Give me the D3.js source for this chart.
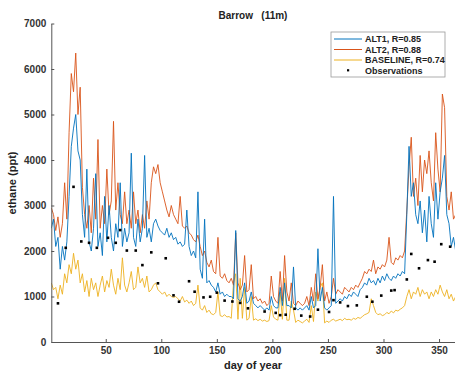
<!DOCTYPE html>
<head>
<meta charset="utf-8">
<title>Barrow (11m) ethane</title>
<style>
  body { margin: 0; background: #fff; }
  svg { font-family: "Liberation Sans", Arial, sans-serif; }
  .axis text { font-size: 10px; font-weight: bold; fill: #333; }
  .axis path, .axis line { stroke: #555; }
</style>
</head>
<body>
<svg width="455" height="379"></svg>
<script src="https://d3js.org/d3.v7.min.js"></script>
<script>

// model output sampled every 2 days, starting at day 1
var days = d3.range(1, 366, 2);

var alt2 = [
  2950, 2800, 2450, 2750, 2300, 2600, 3500, 2700, 4600, 5900,
  5500, 6350, 5000, 5600, 3400, 2800, 2500, 3000, 2400, 3600,
  2700, 4450, 2500, 3000, 2600, 3800, 2800, 3100, 4850, 2900,
  3500, 2800, 2600, 3300, 2600, 2900, 2500, 3300, 2600, 2900,
  2400, 2800, 2500, 3100, 2700, 3500, 3850, 3700, 3900, 3500,
  3300, 3100, 2900, 2750, 3000, 2800, 2700, 2600, 3200, 2550,
  2500, 2550, 2400, 2350, 2250, 2200, 2350, 2100, 1900, 2000,
  1750, 1650, 1800, 1550, 1500, 2300, 1450, 1400, 1500, 1350,
  1300, 1400, 1250, 2400, 1300, 1150, 1250, 1900, 1100, 1150,
  1700, 950, 1000, 900, 950, 850, 900, 800, 850, 1450,
  1000, 900, 850, 1550, 900, 1900, 1100, 900, 1300, 850,
  800, 900, 850, 800, 850, 1000, 800, 1200, 900, 1500,
  950, 1200, 1700, 900, 1100, 850, 1000, 1400, 1050, 1150,
  1100, 1050, 1200, 1150, 1100, 1200, 1150, 1250, 1200, 1300,
  1400, 1550, 1500, 1600, 1550, 1800, 1500, 1650, 1600, 1700,
  1650, 1800, 2300, 1750, 1700, 1850, 1800, 1900, 1850, 2000,
  2900, 3850, 4500, 3200, 3600, 3000, 4100, 3300, 4000, 3700,
  4200, 3500, 3100, 4600, 3800, 3300, 5450, 5150, 3200, 2900,
  3300, 2700, 2800
];

var alt1 = [
  2500, 2700, 2100, 2300, 1600, 2100, 1800, 2200, 3200, 4300,
  4700, 5000, 4200, 4000, 2800, 2300, 3800, 2200, 2000, 2500,
  3700, 2100, 2400, 1900, 3200, 2200, 3000, 2300, 2000, 2600,
  2300, 3500, 2100, 2500, 2200, 2400, 4150, 2300, 2100, 2700,
  2200, 2500, 4100, 2300, 2500, 2200, 2600, 2700, 2550, 2450,
  2400, 2350, 2500, 2300, 2400, 2250, 2300, 2150, 2200, 2100,
  2150, 2900, 2100, 1900, 2000, 1850, 3300, 1600, 1400, 2700,
  1300, 1350, 1250, 1200, 1100, 1300, 1050, 1100, 1000, 1050,
  1000, 1000, 950, 2450, 950, 900, 1000, 1300, 850, 900,
  1100, 850, 800, 750, 800, 750, 700, 750, 700, 1000,
  800, 750, 750, 1200, 800, 1300, 800, 800, 750, 1650,
  750, 700, 750, 700, 750, 800, 700, 1000, 750, 800,
  2050, 900, 1200, 750, 700, 750, 800, 3200, 850, 900,
  950, 900, 1000, 950, 1050, 1000, 1100, 1050, 1000, 1150,
  1200, 1300, 1250, 1400, 1300, 1350, 1250, 1400, 1300, 1450,
  1350, 1500, 1400, 1350, 1450, 1400, 1500, 1450, 1550, 1500,
  2800, 4300, 3200, 3500, 2800, 2600, 3100, 2400, 2900, 2200,
  3200, 2600, 2300, 3500, 2700, 3300, 3600, 4100, 2800, 2600,
  2100, 2300, 2000
];

var baseline = [
  1300, 1150, 1200, 950, 1250, 1050, 1500, 1300, 1700, 1500,
  1950, 1600, 1800, 1300, 1500, 1100, 1350, 1000, 1400, 1150,
  1300, 1000, 1250, 1450, 1100, 1350, 1200, 1600, 1250, 1050,
  1400, 1150, 1850, 1250, 1100, 1300, 1550, 1150, 1200, 1650,
  1300, 1400, 1200, 1450, 1100, 1150, 1250, 1300, 1150, 1100,
  1050, 1100, 1000, 1050, 1000, 980, 1000, 950, 900, 1000,
  880, 920, 850, 900, 800, 850, 1250, 750, 700, 800,
  650, 700, 620, 600, 650, 1100, 580, 560, 600, 550,
  560, 520, 1300, 1500, 500, 1400, 520, 1200, 480, 520,
  1000, 480, 510, 470, 500, 460, 480, 450, 470, 800,
  550, 500, 480, 1100, 500, 1400, 480, 480, 900, 700,
  430, 480, 450, 420, 460, 500, 430, 800, 450, 1100,
  900, 1200, 1300, 420, 460, 430, 480, 500, 460, 480,
  500, 470, 520, 490, 500, 480, 520, 500, 540, 520,
  560, 600, 620, 650, 950, 800, 650, 600, 620, 580,
  600, 650, 620, 680, 640, 700, 680, 720, 750, 800,
  1000, 1150, 950, 1100, 1050, 1200, 1000, 1150, 1050, 1100,
  950, 1100, 1000, 1150, 1050, 1250, 1100, 1000, 1150, 950,
  1050, 900, 1000
];

// flask observations
var obsDay = [7, 14, 21, 28, 35, 42, 52, 59, 63, 69, 77, 83, 91, 97, 104, 111, 116, 125, 130,
  138, 144, 150, 157, 164, 171, 178, 193, 203, 207, 212, 220, 226, 234, 241, 251, 255,
  261, 268, 276, 285, 290, 298, 307, 310, 321, 325, 332, 340, 346, 352, 360];
var obsVal = [850, 2070, 3410, 2210, 2180, 2070, 2290, 2180, 2460, 2010, 2010, 1690, 1970, 1290, 1840,
  1025, 885, 1335, 1105, 980, 995, 1085, 910, 890, 860, 740, 670, 640, 590, 600, 730, 580,
  560, 710, 660, 920, 870, 790, 805, 995, 885, 1020, 1130, 1140, 1375, 1935, 1620, 1800,
  1765, 2150, 2095];

var yTicks = [0, 1000, 2000, 3000, 4000, 5000, 6000, 7000];
var xTicks = [50, 100, 150, 200, 250, 300, 350];

var seriesNames = ["ALT1, R=0.85", "ALT2, R=0.88", "BASELINE, R=0.74"];
var seriesColors = ["#0072BD", "#D95319", "#EDB120"];

var svg = d3.select("svg");

var x = d3.scaleLinear().domain([1, 365]).range([51.3, 455.7]),
    y = d3.scaleLinear().domain([0, 7000]).range([342, 23.5]);

svg.append("defs").append("clipPath").attr("id", "clip")
  .append("rect").attr("x", 51.3).attr("y", 0).attr("width", 404).attr("height", 342);

var line = d3.line()
  .x(function(d, i) { return x(days[i]); })
  .y(function(d) { return y(d); });

var plot = svg.append("g").attr("clip-path", "url(#clip)");

// baseline first, ALT2 and ALT1 on top
var order = [2, 1, 0];
var data = [alt1, alt2, baseline];
order.forEach(function(k) {
  plot.append("path")
    .attr("d", line(data[k]))
    .attr("fill", "none")
    .attr("stroke", seriesColors[k])
    .attr("stroke-width", 0.9)
    .attr("stroke-linejoin", "round");
});

plot.selectAll(".obs")
  .data(obsDay)
  .enter().append("rect")
  .attr("class", "obs")
  .attr("x", function(d) { return x(d) - 1.3; })
  .attr("y", function(d, i) { return y(obsVal[i]) - 1.3; })
  .attr("width", 2.6)
  .attr("height", 2.6)
  .attr("fill", "#000");

// axes, ticks pointing inward like matlab
svg.append("g")
  .attr("class", "axis")
  .attr("transform", "translate(0,342)")
  .call(d3.axisBottom(x).tickValues(xTicks).tickFormat(d3.format("d"))
    .tickSizeInner(-3).tickSizeOuter(0).tickPadding(5));

svg.append("g")
  .attr("class", "axis")
  .attr("transform", "translate(51.3,0)")
  .call(d3.axisLeft(y).tickValues(yTicks).tickFormat(d3.format("d"))
    .tickSizeInner(-3).tickSizeOuter(0).tickPadding(5));

svg.append("text")
  .attr("x", 253).attr("y", 19)
  .attr("text-anchor", "middle")
  .style("font-size", "10px").style("font-weight", "bold").style("fill", "#222")
  .attr("xml:space", "preserve")
  .text("Barrow   (11m)");

svg.append("text")
  .attr("x", 253).attr("y", 369)
  .attr("text-anchor", "middle")
  .style("font-size", "11px").style("font-weight", "bold").style("fill", "#222")
  .text("day of year");

svg.append("text")
  .attr("transform", "translate(16,183) rotate(-90)")
  .attr("text-anchor", "middle")
  .style("font-size", "11px").style("font-weight", "bold").style("fill", "#222")
  .text("ethane (ppt)");

// legend
var legend = svg.append("g").attr("transform", "translate(331,32)");
legend.append("rect")
  .attr("width", 114).attr("height", 45)
  .attr("fill", "#fff").attr("stroke", "#999").attr("stroke-width", 0.8);

seriesNames.forEach(function(name, i) {
  var ly = 7 + i * 10.5;
  legend.append("line")
    .attr("x1", 3).attr("x2", 31).attr("y1", ly).attr("y2", ly)
    .attr("stroke", seriesColors[i]).attr("stroke-width", 1);
  legend.append("text")
    .attr("x", 34).attr("y", ly + 3.3)
    .style("font-size", "9px").style("font-weight", "bold").style("fill", "#222")
    .text(name);
});
legend.append("rect")
  .attr("x", 16).attr("y", 37.2).attr("width", 2.2).attr("height", 2.2).attr("fill", "#000");
legend.append("text")
  .attr("x", 34).attr("y", 41.7)
  .style("font-size", "9px").style("font-weight", "bold").style("fill", "#222")
  .text("Observations");

</script>
</body>
